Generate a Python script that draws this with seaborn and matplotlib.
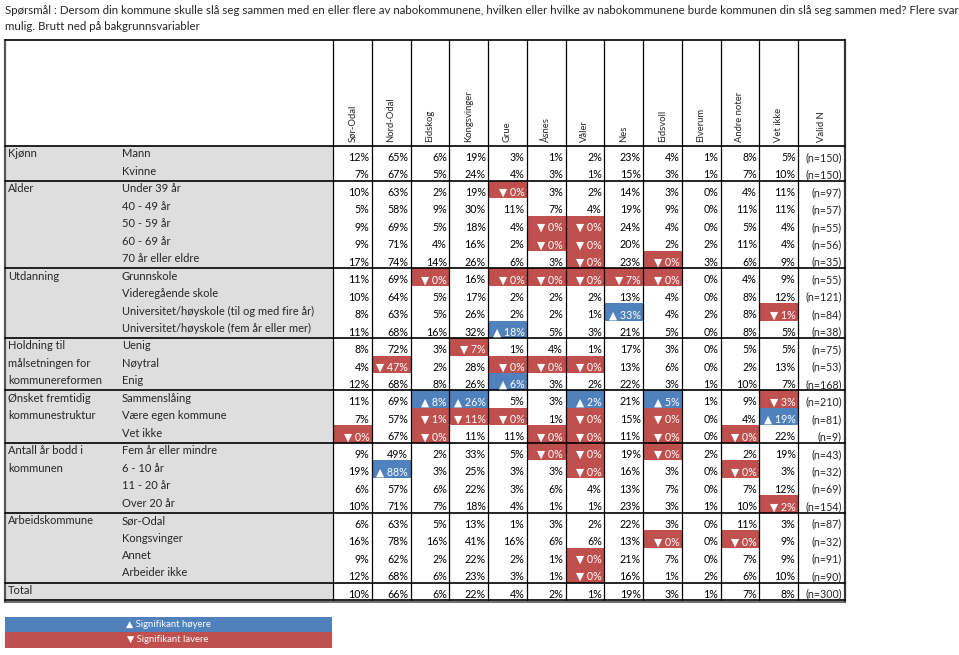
import numpy as np
import pandas as pd
import matplotlib
matplotlib.use("Agg")
import matplotlib.pyplot as plt
import seaborn as sns
from matplotlib.colors import ListedColormap
from matplotlib.patches import Rectangle

# ---- data ----
title_lines = [
    "Spørsmål : Dersom din kommune skulle slå seg sammen med en eller flere av nabokommunene, "
    "hvilken eller hvilke av nabokommunene burde kommunen din slå seg sammen med? Flere svar",
    "mulig. Brutt ned på bakgrunnsvariabler",
]

columns = ["Sør-Odal", "Nord-Odal", "Eidskog", "Kongsvinger", "Grue", "Åsnes", "Våler",
           "Nes", "Eidsvoll", "Elverum", "Andre noter", "Vet ikke"]

groups = [
    ("Kjønn", ["Mann", "Kvinne"]),
    ("Alder", ["Under 39 år", "40 - 49 år", "50 - 59 år", "60 - 69 år", "70 år eller eldre"]),
    ("Utdanning", ["Grunnskole", "Videregående skole",
                   "Universitet/høyskole (til og med fire år)",
                   "Universitet/høyskole (fem år eller mer)"]),
    ("Holdning til\nmålsetningen for\nkommunereformen", ["Uenig", "Nøytral", "Enig"]),
    ("Ønsket fremtidig\nkommunestruktur", ["Sammenslåing", "Være egen kommune", "Vet ikke"]),
    ("Antall år bodd i\nkommunen", ["Fem år eller mindre", "6 - 10 år", "11 - 20 år", "Over 20 år"]),
    ("Arbeidskommune", ["Sør-Odal", "Kongsvinger", "Annet", "Arbeider ikke"]),
    ("Total", [""]),
]

values = [
    [12, 65, 6, 19, 3, 1, 2, 23, 4, 1, 8, 5],
    [7, 67, 5, 24, 4, 3, 1, 15, 3, 1, 7, 10],
    [10, 63, 2, 19, 0, 3, 2, 14, 3, 0, 4, 11],
    [5, 58, 9, 30, 11, 7, 4, 19, 9, 0, 11, 11],
    [9, 69, 5, 18, 4, 0, 0, 24, 4, 0, 5, 4],
    [9, 71, 4, 16, 2, 0, 0, 20, 2, 2, 11, 4],
    [17, 74, 14, 26, 6, 3, 0, 23, 0, 3, 6, 9],
    [11, 69, 0, 16, 0, 0, 0, 7, 0, 0, 4, 9],
    [10, 64, 5, 17, 2, 2, 2, 13, 4, 0, 8, 12],
    [8, 63, 5, 26, 2, 2, 1, 33, 4, 2, 8, 1],
    [11, 68, 16, 32, 18, 5, 3, 21, 5, 0, 8, 5],
    [8, 72, 3, 7, 1, 4, 1, 17, 3, 0, 5, 5],
    [4, 47, 2, 28, 0, 0, 0, 13, 6, 0, 2, 13],
    [12, 68, 8, 26, 6, 3, 2, 22, 3, 1, 10, 7],
    [11, 69, 8, 26, 5, 3, 2, 21, 5, 1, 9, 3],
    [7, 57, 1, 11, 0, 1, 0, 15, 0, 0, 4, 19],
    [0, 67, 0, 11, 11, 0, 0, 11, 0, 0, 0, 22],
    [9, 49, 2, 33, 5, 0, 0, 19, 0, 2, 2, 19],
    [19, 88, 3, 25, 3, 3, 0, 16, 3, 0, 0, 3],
    [6, 57, 6, 22, 3, 6, 4, 13, 7, 0, 7, 12],
    [10, 71, 7, 18, 4, 1, 1, 23, 3, 1, 10, 2],
    [6, 63, 5, 13, 1, 3, 2, 22, 3, 0, 11, 3],
    [16, 78, 16, 41, 16, 6, 6, 13, 0, 0, 0, 9],
    [9, 62, 2, 22, 2, 1, 0, 21, 7, 0, 7, 9],
    [12, 68, 6, 23, 3, 1, 0, 16, 1, 2, 6, 10],
    [10, 66, 6, 22, 4, 2, 1, 19, 3, 1, 7, 8],
]

# '+' = significantly higher, '-' = significantly lower
flags = [
    "............",
    "............",
    "....-.......",
    "............",
    ".....--.....",
    ".....--.....",
    "......-.-...",
    "..-.-----...",
    "............",
    ".......+...-",
    "....+.......",
    "...-........",
    ".-..---.....",
    "....+.......",
    "..++..+.+..-",
    "..---.-.-..+",
    "-.-..--.-.-.",
    ".....--.-...",
    ".+....-...-.",
    "............",
    "...........-",
    "............",
    "........-.-.",
    "......-.....",
    "......-.....",
    "............",
]

valid_n = [150, 150, 97, 57, 55, 56, 35, 55, 121, 84, 38, 75, 53, 168,
           210, 81, 9, 43, 32, 69, 154, 87, 32, 91, 90, 300]

# ---- style ----
sns.set_theme(style="white")
plt.rcParams["font.family"] = ["Lato", "DejaVu Sans"]

BLUE = "#4F81BD"
RED = "#C0504D"
GREY = "#DEDEDE"

W, H = 959, 655
X0, X1 = 333, 798      # percentage columns in pixels
Y0, Y1 = 146, 600      # data rows in pixels
n_rows = len(values)
n_cols = len(columns)
cw = (X1 - X0) / n_cols
rh = (Y1 - Y0) / n_rows


def dx(px):
    return (px - X0) / cw


def dy(py):
    return (py - Y0) / rh


fig = plt.figure(figsize=(W / 100, H / 100), dpi=100)
ax = fig.add_axes([X0 / W, 1 - Y1 / H, (X1 - X0) / W, (Y1 - Y0) / H])

code = {".": 0, "+": 1, "-": 2}
sig = pd.DataFrame([[code[c] for c in row] for row in flags], columns=columns)
sns.heatmap(sig, ax=ax, cmap=ListedColormap(["white", BLUE, RED]), vmin=-0.5, vmax=2.5,
            cbar=False, linewidths=0, xticklabels=False, yticklabels=False)

# grey label area
ax.add_patch(Rectangle((dx(5), 0), dx(X0) - dx(5), n_rows, facecolor=GREY,
                       edgecolor="none", clip_on=False, zorder=0.5))

# numbers
for i in range(n_rows):
    for j in range(n_cols):
        f = flags[i][j]
        if f == ".":
            txt, col = f"{values[i][j]}%", "black"
        else:
            txt, col = ("▲ " if f == "+" else "▼ ") + f"{values[i][j]}%", "white"
        ax.text(j + 1 - 0.06, i + 0.66, txt, ha="right", va="center", fontsize=7.7,
                color=col, clip_on=False)
    ax.text(dx(842), i + 0.66, f"(n={valid_n[i]})", ha="right", va="center",
            fontsize=7.7, clip_on=False)

# row labels
r = 0
bounds = [0]
for g, subs in groups:
    for k, line in enumerate(g.split("\n")):
        ax.text(dx(8), r + k + 0.45, line, ha="left", va="center", fontsize=8.0,
                clip_on=False)
    for k, s in enumerate(subs):
        ax.text(dx(122), r + k + 0.45, s, ha="left", va="center", fontsize=8.0,
                clip_on=False)
    r += len(subs)
    bounds.append(r)

# column headers
for j, c in enumerate(columns + ["Valid N"]):
    xc = j + 0.5 if j < n_cols else (dx(X1) + dx(845)) / 2
    ax.text(xc, -0.25, c, rotation=90, ha="center", va="bottom", fontsize=6.8,
            clip_on=False)

# grid lines
top = dy(40)
for j in range(n_cols + 1):
    ax.plot([j, j], [top, n_rows], color="black", lw=0.9, clip_on=False)
ax.plot([dx(845), dx(845)], [top, n_rows + 0.1], color="#333333", lw=1.6, clip_on=False)
ax.plot([dx(5), dx(5)], [top, n_rows + 0.1], color="#555555", lw=1.6, clip_on=False)
ax.plot([dx(5), dx(845)], [top, top], color="black", lw=1.2, clip_on=False)
for b in bounds:
    ax.plot([dx(5), dx(845)], [b, b], color="black", lw=1.2, clip_on=False)
ax.plot([dx(5), dx(845)], [n_rows + 0.12, n_rows + 0.12], color="#555555", lw=1.2,
        clip_on=False)

# title
fig.text(5 / W, 1 - 10 / H, title_lines[0], ha="left", va="center", fontsize=8.25)
fig.text(5 / W, 1 - 27 / H, title_lines[1], ha="left", va="center", fontsize=8.25)

# legend
for (y_a, y_b, colr, lbl) in [(617, 632, BLUE, "▲ Signifikant høyere"),
                              (632, 648, RED, "▼ Signifikant lavere")]:
    fig.add_artist(Rectangle((5 / W, 1 - y_b / H), (332 - 5) / W, (y_b - y_a) / H,
                             transform=fig.transFigure, facecolor=colr, edgecolor="none"))
    fig.text(168 / W, 1 - (y_a + y_b) / 2 / H, lbl, ha="center", va="center",
             fontsize=6.8, color="white")

fig.savefig("out.png", dpi=100)
